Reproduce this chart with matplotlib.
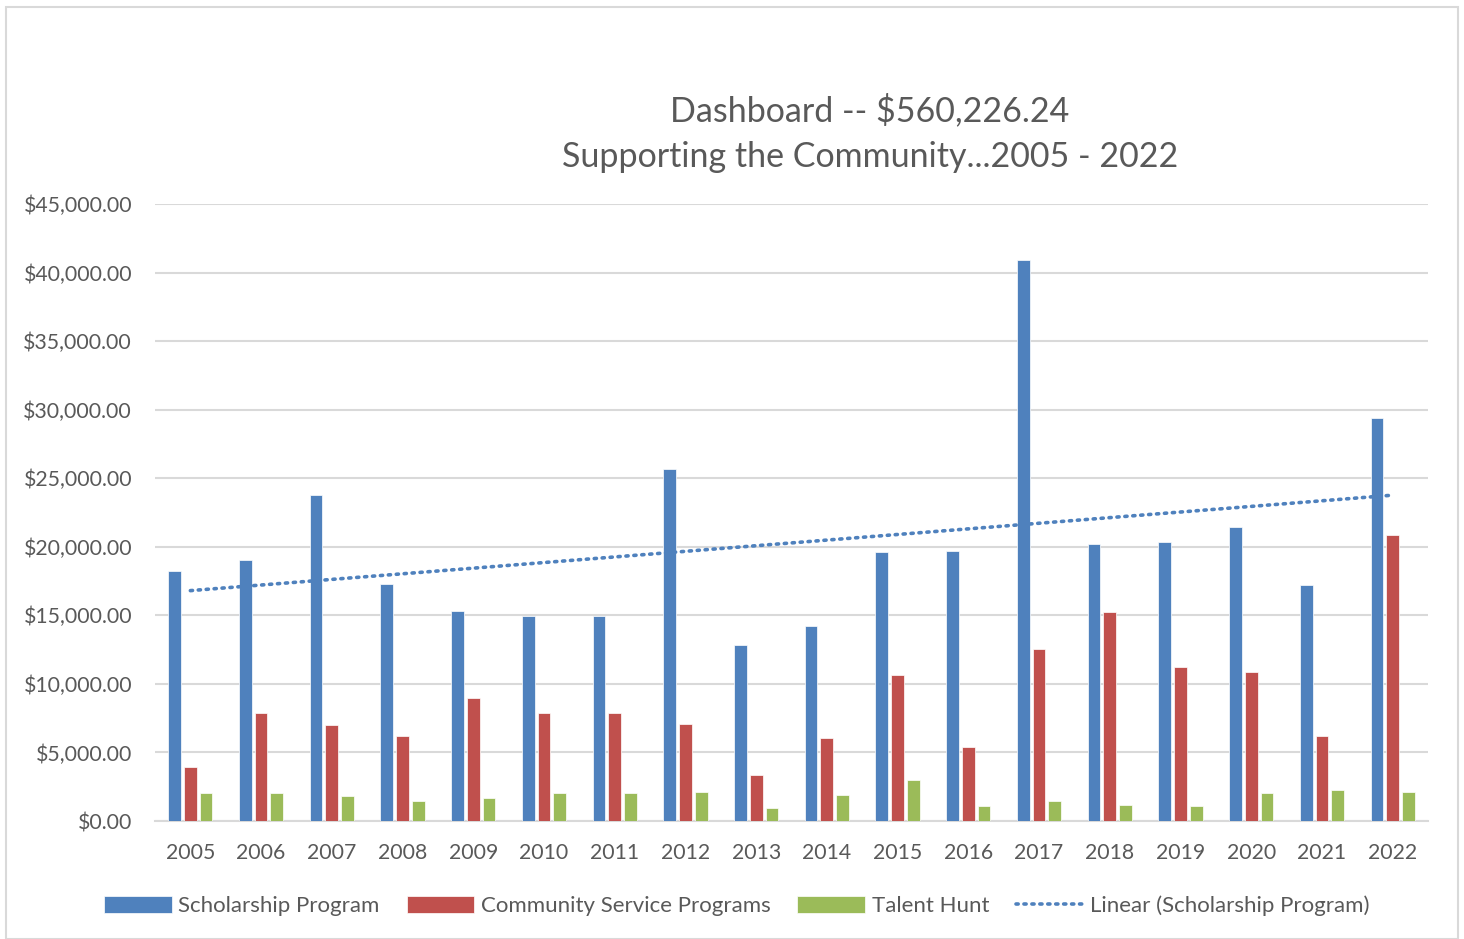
import numpy as np
import matplotlib.pyplot as plt
from matplotlib.patches import Rectangle
from matplotlib.ticker import FuncFormatter

years = [str(y) for y in range(2005, 2023)]
scholarship = [18230, 19050, 23800, 17280, 15300, 14980, 14980, 25670, 12820,
               14210, 19610, 19710, 40950, 20180, 20330, 21420, 17190, 29380]
community = [3940, 7900, 6980, 6180, 8950, 7900, 7900, 7080, 3360,
             6060, 10660, 5400, 12580, 15260, 11240, 10840, 6170, 20860]
talent = [2070, 2060, 1820, 1460, 1660, 2060, 2040, 2120, 950,
          1900, 2970, 1090, 1440, 1200, 1130, 2040, 2260, 2100]

blue = '#4F81BD'
red = '#C0504D'
green = '#9BBB59'
txt = '#595959'
grid = '#D9D9D9'

plt.rcParams['font.family'] = ['Lato', 'DejaVu Sans']

fig = plt.figure(figsize=(14.64, 9.39), dpi=100)
ax = fig.add_axes([155 / 1464, 1 - 821 / 939, (1428 - 155) / 1464, (821 - 204) / 939])

x = np.arange(len(years))
off = 0.223
w = 0.18
b1 = ax.bar(x - off, scholarship, w, color=blue, edgecolor='white', linewidth=0.5,
            label='Scholarship Program', zorder=3)
b2 = ax.bar(x, community, w, color=red, edgecolor='white', linewidth=0.5,
            label='Community Service Programs', zorder=3)
b3 = ax.bar(x + off, talent, w, color=green, edgecolor='white', linewidth=0.5,
            label='Talent Hunt', zorder=3)

# linear trend of the scholarship series
k, b = np.polyfit(x, scholarship, 1)
ln, = ax.plot(x, k * x + b, color=blue, linestyle=(0, (0.6, 1.6)), linewidth=2.6,
              dash_capstyle='round', label='Linear (Scholarship Program)', zorder=4)

ax.set_xlim(-0.5, len(years) - 0.5)
ax.set_ylim(0, 45000)
ax.set_yticks(np.arange(0, 45001, 5000))
ax.yaxis.set_major_formatter(FuncFormatter(lambda v, p: '$' + format(v, ',.2f')))
ax.set_xticks(x)
ax.set_xticklabels(years)
ax.tick_params(axis='both', length=0, labelsize=15.3, labelcolor=txt)
ax.tick_params(axis='y', pad=16.5)
ax.tick_params(axis='x', pad=16)
ax.grid(axis='y', color=grid, linewidth=1.5, zorder=0)
for s in ['top', 'right', 'left']:
    ax.spines[s].set_visible(False)
ax.spines['bottom'].set_color(grid)
ax.spines['bottom'].set_linewidth(1.5)

fig.text(870 / 1464, 1 - 110 / 939, 'Dashboard -- $560,226.24', ha='center', va='center',
         fontsize=24.5, color=txt)
fig.text(870 / 1464, 1 - 157 / 939, 'Supporting the Community...2005 - 2022', ha='center',
         va='center', fontsize=24.5, color=txt)

fig.legend(handles=[b1, b2, b3, ln], loc='center', bbox_to_anchor=(737 / 1464, 1 - 906 / 939),
           ncol=4, frameon=False, fontsize=16, labelcolor=txt, handlelength=3.05,
           handleheight=0.75, columnspacing=1.2, handletextpad=0.3)

fig.patches.append(Rectangle((6 / 1464, 0), 1452 / 1464, 1 - 7 / 939, transform=fig.transFigure,
                             fill=False, edgecolor=grid, linewidth=1.5))

fig.savefig('out.png', dpi=100)
